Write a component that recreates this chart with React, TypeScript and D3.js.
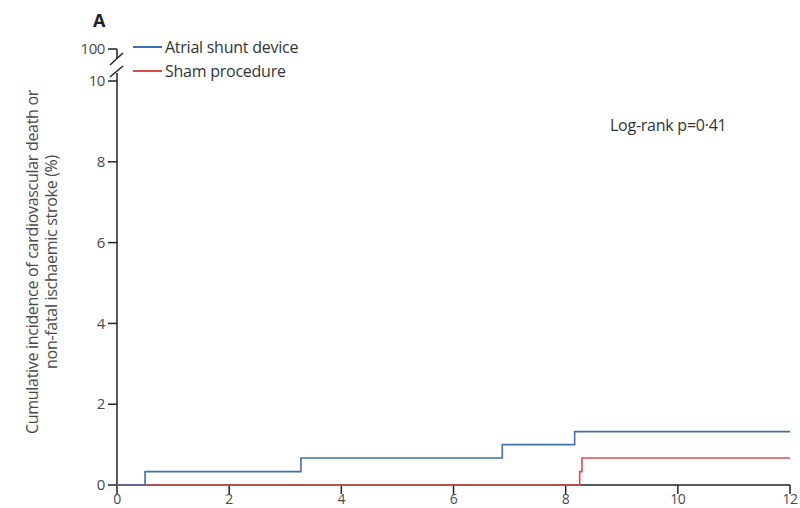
import React from "react";
import * as d3 from "d3";

const xTicks = [0, 2, 4, 6, 8, 10, 12];
const yTicks = [0, 2, 4, 6, 8, 10];
const shuntSteps: [number, number][] = [
  [0, 0], [0.5, 0.33], [3.28, 0.67], [6.87, 1.0], [8.16, 1.32], [12, 1.32],
];
const shamSteps: [number, number][] = [
  [0, 0], [8.25, 0.33], [8.29, 0.67], [12, 0.67],
];
const seriesNames = ["Atrial shunt device", "Sham procedure"];
const seriesColors = ["#3f6fae", "#e04a4a"];

const W = 800, H = 508;
const x = d3.scaleLinear().domain([0, 12]).range([117, 790]);
const y = d3.scaleLinear().domain([0, 10]).range([485, 81]);
const y100 = 49;

const line = d3.line<[number, number]>().x(d => x(d[0])).y(d => y(d[1])).curve(d3.curveStepAfter);

export default function App() {
  const font = "'Open Sans', Lato, sans-serif";
  const axisColor = "#222";
  const textColor = "#4a4a4a";
  return (
    <svg width={W} height={H} style={{ position: "absolute", left: 0, top: 0, background: "#fff" }} fontFamily={font}>
      <text x={93} y={27} fontSize={18} fontWeight="bold" fill="#222">A</text>
      {/* y axis lower segment */}
      <line x1={x(0)} x2={x(0)} y1={y(0)} y2={73} stroke={axisColor} strokeWidth={1.5} />
      {/* upper segment */}
      <line x1={108} x2={117} y1={y100} y2={y100} stroke={axisColor} strokeWidth={1.5} />
      <line x1={117} x2={117} y1={y100} y2={58} stroke={axisColor} strokeWidth={1.5} />
      <line x1={110} x2={123} y1={65} y2={53} stroke={axisColor} strokeWidth={1.5} />
      <line x1={110} x2={123} y1={77} y2={66} stroke={axisColor} strokeWidth={1.5} />
      <text x={105} y={y100} dy="0.35em" textAnchor="end" fontSize={15} fill={textColor} letterSpacing={-0.4}>100</text>
      {yTicks.map(t => (
        <g key={t}>
          <line x1={108} x2={117} y1={y(t)} y2={y(t)} stroke={axisColor} strokeWidth={1.5} />
          <text x={105} y={y(t)} dy="0.35em" textAnchor="end" fontSize={15} fill={textColor} letterSpacing={-0.4}>{t}</text>
        </g>
      ))}
      {/* x axis */}
      <line x1={x(0)} x2={x(12)} y1={y(0)} y2={y(0)} stroke={axisColor} strokeWidth={1.5} />
      {xTicks.map(t => (
        <g key={t}>
          <line x1={x(t)} x2={x(t)} y1={y(0)} y2={y(0) + 9} stroke={axisColor} strokeWidth={1.5} />
          <text x={x(t)} y={y(0) + 19} textAnchor="middle" fontSize={14} fill={textColor} letterSpacing={-0.4}>{t}</text>
        </g>
      ))}
      <path d={line(shamSteps) || ""} fill="none" stroke={seriesColors[1]} strokeWidth={1.6} />
      <path d={line(shuntSteps) || ""} fill="none" stroke={seriesColors[0]} strokeWidth={1.6} />
      {seriesNames.map((n, i) => (
        <g key={n}>
          <line x1={133} x2={162} y1={47 + i * 24} y2={47 + i * 24} stroke={seriesColors[i]} strokeWidth={2} />
          <text x={165} y={47 + i * 24} dy="0.35em" fontSize={16} fill="#333" letterSpacing={-0.25}>{n}</text>
        </g>
      ))}
      <text x={610} y={125} dy="0.35em" fontSize={16} fill="#333" letterSpacing={-0.25}>Log-rank p=0·41</text>
      <g transform="translate(38,262) rotate(-90)">
        <text x={0} y={0} textAnchor="middle" fontSize={16} fill={textColor} letterSpacing={-0.3}>Cumulative incidence of cardiovascular death or</text>
        <text x={0} y={19} textAnchor="middle" fontSize={16} fill={textColor} letterSpacing={-0.3}>non-fatal ischaemic stroke (%)</text>
      </g>
    </svg>
  );
}
